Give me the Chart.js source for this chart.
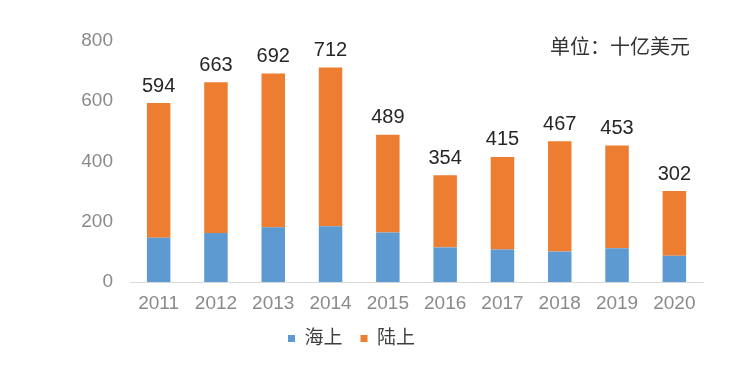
<!DOCTYPE html>
<html>
<head>
<meta charset="utf-8">
<script src="https://cdn.jsdelivr.net/npm/chart.js@4.4.1/dist/chart.umd.min.js"></script>
<style>
  html, body { margin: 0; padding: 0; background: #ffffff; }
  #wrap { width: 732px; height: 368px; position: relative; }
</style>
</head>
<body>
<div id="wrap"><canvas id="c" width="732" height="368"></canvas></div>
<script>
const years = ['2011','2012','2013','2014','2015','2016','2017','2018','2019','2020'];
const offshore = [147, 163, 182, 185, 164, 115, 108, 101, 112, 87];
const onshore  = [447, 500, 510, 527, 325, 239, 307, 366, 341, 215];
const seriesNames = ['海上', '陆上'];
const unitText = '单位：十亿美元';
const yTicks = [0, 200, 400, 600, 800];

const FONT = '"Liberation Sans", Arial, "Noto Sans CJK SC", sans-serif';

const totalsPlugin = {
  id: 'totals',
  afterDatasetsDraw(chart) {
    const ctx = chart.ctx;
    const y = chart.scales.y;
    const meta = chart.getDatasetMeta(1);
    ctx.save();
    ctx.fillStyle = '#262626';
    ctx.font = '20px ' + FONT;
    ctx.textAlign = 'center';
    ctx.textBaseline = 'bottom';
    years.forEach((_, i) => {
      const total = offshore[i] + onshore[i];
      const x = meta.data[i].x;
      ctx.fillText(String(total), x, y.getPixelForValue(total) - 7);
    });
    ctx.font = '20px ' + FONT;
    ctx.textAlign = 'right';
    ctx.textBaseline = 'middle';
    ctx.fillStyle = '#333333';
    ctx.fillText(unitText, 690, 48);
    ctx.restore();
  }
};

new Chart(document.getElementById('c'), {
  type: 'bar',
  data: {
    labels: years,
    datasets: [
      { label: seriesNames[0], data: offshore, backgroundColor: '#5E9AD2' },
      { label: seriesNames[1], data: onshore, backgroundColor: '#ED7D31' }
    ]
  },
  options: {
    responsive: false,
    animation: false,
    devicePixelRatio: 1,
    layout: { padding: { left: 0, right: 29, top: 41, bottom: 10 } },
    datasets: { bar: { categoryPercentage: 0.82, barPercentage: 0.5 } },
    scales: {
      x: {
        stacked: true,
        grid: { display: false, drawTicks: false },
        border: { display: true, color: '#d9d9d9', width: 1 },
        ticks: { color: '#8a8a8a', font: { size: 19, family: FONT }, padding: 10 },
        afterFit(s) { s.height = 29; }
      },
      y: {
        stacked: true,
        min: 0, max: 800,
        afterBuildTicks(s) { s.ticks = yTicks.map(v => ({ value: v })); },
        grid: { display: false, drawTicks: false },
        border: { display: false },
        ticks: { color: '#8a8a8a', font: { size: 19, family: FONT }, padding: 17 },
        afterFit(s) { s.width = 130; }
      }
    },
    plugins: {
      legend: {
        position: 'bottom',
        labels: {
          color: '#404040',
          font: { size: 19, family: FONT },
          boxWidth: 7, boxHeight: 7,
          padding: 18
        }
      },
      tooltip: { enabled: false },
      title: { display: false }
    }
  },
  plugins: [totalsPlugin]
});
</script>
</body>
</html>
